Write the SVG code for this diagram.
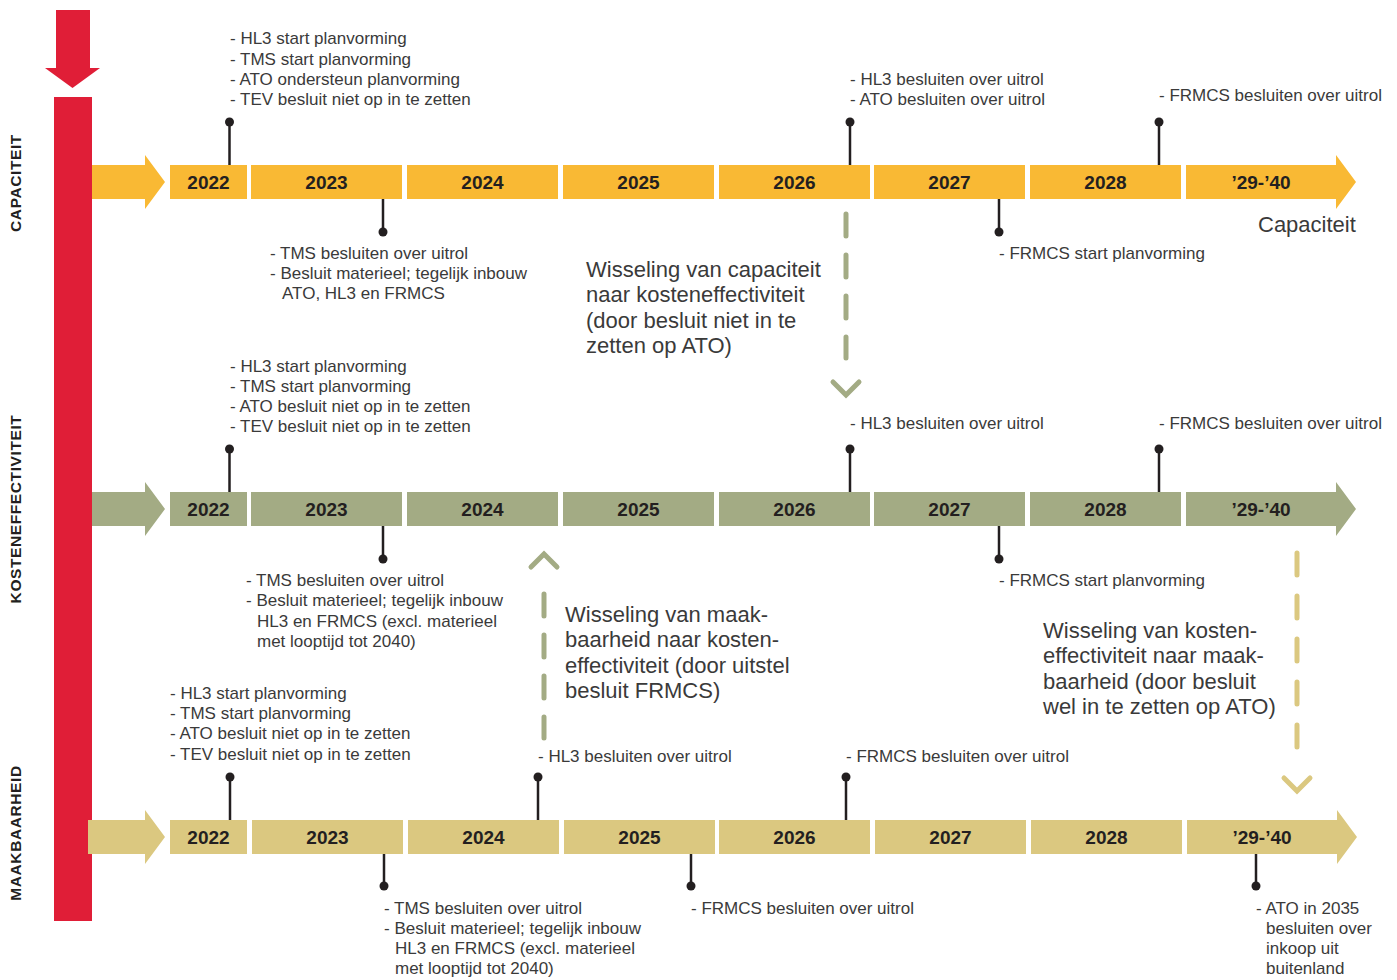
<svg xmlns="http://www.w3.org/2000/svg" width="1397" height="980" viewBox="0 0 1397 980">
<style>
.t{font-family:"Liberation Sans",Arial,sans-serif;font-size:17px;fill:#3a3a3a}
.big{font-family:"Liberation Sans",Arial,sans-serif;font-size:22px;fill:#3a3a3a}
.yr{font-family:"Liberation Sans",Arial,sans-serif;font-size:19px;font-weight:bold;fill:#231f20;text-anchor:middle}
.lab{font-family:"Liberation Sans",Arial,sans-serif;font-size:15.5px;font-weight:bold;fill:#231f20;text-anchor:middle;letter-spacing:0.6px}
.stem{stroke:#231f20;stroke-width:2.5}
.dot{fill:#231f20}
.cap{fill:#F9B934}
.kos{fill:#A3AB84}
.maak{fill:#DBC880}
.dg{stroke:#A3AB84;stroke-width:5;stroke-linecap:round;fill:none}
.dy{stroke:#DBC880;stroke-width:5;stroke-linecap:round;fill:none}
</style>
<rect width="1397" height="980" fill="#ffffff"/>

<g id="red-axis">
<rect x="56" y="10" width="34" height="60" fill="#E01E37"/>
<polygon points="45,68 100,68 72.5,88" fill="#E01E37"/>
<rect x="54" y="97" width="38" height="824" fill="#E01E37"/>
</g>

<g id="row-labels">
<text class="lab" transform="translate(21,183) rotate(-90)">CAPACITEIT</text>
<text class="lab" transform="translate(21,509) rotate(-90)">KOSTENEFFECTIVITEIT</text>
<text class="lab" transform="translate(21,833) rotate(-90)">MAAKBAARHEID</text>
</g>

<g id="timeline-capaciteit">
<polygon class="cap" points="92,165 145,165 145,155 165,182 145,209 145,199 92,199"/>
<rect class="cap" x="170" y="165" width="77" height="34"/>
<rect class="cap" x="251" y="165" width="151" height="34"/>
<rect class="cap" x="407" y="165" width="151" height="34"/>
<rect class="cap" x="563" y="165" width="151" height="34"/>
<rect class="cap" x="719" y="165" width="151" height="34"/>
<rect class="cap" x="874" y="165" width="151" height="34"/>
<rect class="cap" x="1030" y="165" width="151" height="34"/>
<polygon class="cap" points="1186,165 1336,165 1336,155 1356,182 1336,209 1336,199 1186,199"/>
<text class="yr" x="208.5" y="189">2022</text>
<text class="yr" x="326.5" y="189">2023</text>
<text class="yr" x="482.5" y="189">2024</text>
<text class="yr" x="638.5" y="189">2025</text>
<text class="yr" x="794.5" y="189">2026</text>
<text class="yr" x="949.5" y="189">2027</text>
<text class="yr" x="1105.5" y="189">2028</text>
<text class="yr" x="1261" y="189">’29-’40</text>
</g>

<g id="timeline-kosteneffectiviteit">
<polygon class="kos" points="92,492 145,492 145,482 165,509 145,536 145,526 92,526"/>
<rect class="kos" x="170" y="492" width="77" height="34"/>
<rect class="kos" x="251" y="492" width="151" height="34"/>
<rect class="kos" x="407" y="492" width="151" height="34"/>
<rect class="kos" x="563" y="492" width="151" height="34"/>
<rect class="kos" x="719" y="492" width="151" height="34"/>
<rect class="kos" x="874" y="492" width="151" height="34"/>
<rect class="kos" x="1030" y="492" width="151" height="34"/>
<polygon class="kos" points="1186,492 1336,492 1336,482 1356,509 1336,536 1336,526 1186,526"/>
<text class="yr" x="208.5" y="516">2022</text>
<text class="yr" x="326.5" y="516">2023</text>
<text class="yr" x="482.5" y="516">2024</text>
<text class="yr" x="638.5" y="516">2025</text>
<text class="yr" x="794.5" y="516">2026</text>
<text class="yr" x="949.5" y="516">2027</text>
<text class="yr" x="1105.5" y="516">2028</text>
<text class="yr" x="1261" y="516">’29-’40</text>
</g>

<g id="timeline-maakbaarheid">
<polygon class="maak" points="88,820 145,820 145,810 165,837 145,864 145,854 88,854"/>
<rect class="maak" x="170" y="820" width="77" height="34"/>
<rect class="maak" x="252" y="820" width="151" height="34"/>
<rect class="maak" x="408" y="820" width="151" height="34"/>
<rect class="maak" x="564" y="820" width="151" height="34"/>
<rect class="maak" x="719" y="820" width="151" height="34"/>
<rect class="maak" x="875" y="820" width="151" height="34"/>
<rect class="maak" x="1031" y="820" width="151" height="34"/>
<polygon class="maak" points="1187,820 1337,820 1337,810 1357,837 1337,864 1337,854 1187,854"/>
<text class="yr" x="208.5" y="844">2022</text>
<text class="yr" x="327.5" y="844">2023</text>
<text class="yr" x="483.5" y="844">2024</text>
<text class="yr" x="639.5" y="844">2025</text>
<text class="yr" x="794.5" y="844">2026</text>
<text class="yr" x="950.5" y="844">2027</text>
<text class="yr" x="1106.5" y="844">2028</text>
<text class="yr" x="1262" y="844">’29-’40</text>
</g>

<g id="connectors">
<line class="stem" x1="229.5" y1="122" x2="229.5" y2="165"/><circle class="dot" cx="229.5" cy="122" r="4.5"/>
<line class="stem" x1="383" y1="199" x2="383" y2="232"/><circle class="dot" cx="383" cy="232" r="4.5"/>
<line class="stem" x1="850" y1="122" x2="850" y2="165"/><circle class="dot" cx="850" cy="122" r="4.5"/>
<line class="stem" x1="999" y1="199" x2="999" y2="232"/><circle class="dot" cx="999" cy="232" r="4.5"/>
<line class="stem" x1="1159" y1="122" x2="1159" y2="165"/><circle class="dot" cx="1159" cy="122" r="4.5"/>
<line class="stem" x1="229.5" y1="449" x2="229.5" y2="492"/><circle class="dot" cx="229.5" cy="449" r="4.5"/>
<line class="stem" x1="383" y1="526" x2="383" y2="559"/><circle class="dot" cx="383" cy="559" r="4.5"/>
<line class="stem" x1="850" y1="449" x2="850" y2="492"/><circle class="dot" cx="850" cy="449" r="4.5"/>
<line class="stem" x1="999" y1="526" x2="999" y2="559"/><circle class="dot" cx="999" cy="559" r="4.5"/>
<line class="stem" x1="1159" y1="449" x2="1159" y2="492"/><circle class="dot" cx="1159" cy="449" r="4.5"/>
<line class="stem" x1="230" y1="777" x2="230" y2="820"/><circle class="dot" cx="230" cy="777" r="4.5"/>
<line class="stem" x1="538" y1="777" x2="538" y2="820"/><circle class="dot" cx="538" cy="777" r="4.5"/>
<line class="stem" x1="846" y1="777" x2="846" y2="820"/><circle class="dot" cx="846" cy="777" r="4.5"/>
<line class="stem" x1="384" y1="854" x2="384" y2="886"/><circle class="dot" cx="384" cy="886" r="4.5"/>
<line class="stem" x1="691" y1="854" x2="691" y2="886"/><circle class="dot" cx="691" cy="886" r="4.5"/>
<line class="stem" x1="1256" y1="854" x2="1256" y2="886"/><circle class="dot" cx="1256" cy="886" r="4.5"/>
<line class="dg" x1="846" y1="214" x2="846" y2="358" stroke-dasharray="22 19"/>
<polyline class="dg" points="833,382 846,395 859,382"/>
<line class="dg" x1="544" y1="594" x2="544" y2="738" stroke-dasharray="22 19"/>
<polyline class="dg" points="531,567 544,554 557,567"/>
<line class="dy" x1="1297" y1="553" x2="1297" y2="749" stroke-dasharray="22 21"/>
<polyline class="dy" points="1284,778 1297,791 1310,778"/>
</g>

<g id="notes-capaciteit">
<text class="t" x="230" y="44">- HL3 start planvorming</text>
<text class="t" x="230" y="64.5">- TMS start planvorming</text>
<text class="t" x="230" y="85">- ATO ondersteun planvorming</text>
<text class="t" x="230" y="105">- TEV besluit niet op in te zetten</text>
<text class="t" x="850" y="85">- HL3 besluiten over uitrol</text>
<text class="t" x="850" y="105">- ATO besluiten over uitrol</text>
<text class="t" x="1159" y="101">- FRMCS besluiten over uitrol</text>
<text class="t" x="270" y="259">- TMS besluiten over uitrol</text>
<text class="t" x="270" y="279">- Besluit materieel; tegelijk inbouw</text>
<text class="t" x="282" y="299">ATO, HL3 en FRMCS</text>
<text class="t" x="999" y="259">- FRMCS start planvorming</text>
<text class="big" x="1258" y="232">Capaciteit</text>
</g>

<g id="notes-kosteneffectiviteit">
<text class="t" x="230" y="372">- HL3 start planvorming</text>
<text class="t" x="230" y="392">- TMS start planvorming</text>
<text class="t" x="230" y="412">- ATO besluit niet op in te zetten</text>
<text class="t" x="230" y="432">- TEV besluit niet op in te zetten</text>
<text class="t" x="850" y="429">- HL3 besluiten over uitrol</text>
<text class="t" x="1159" y="429">- FRMCS besluiten over uitrol</text>
<text class="t" x="246" y="586">- TMS besluiten over uitrol</text>
<text class="t" x="246" y="606">- Besluit materieel; tegelijk inbouw</text>
<text class="t" x="257" y="627">HL3 en FRMCS (excl. materieel</text>
<text class="t" x="257" y="647">met looptijd tot 2040)</text>
<text class="t" x="999" y="586">- FRMCS start planvorming</text>
</g>

<g id="notes-maakbaarheid">
<text class="t" x="170" y="699">- HL3 start planvorming</text>
<text class="t" x="170" y="719">- TMS start planvorming</text>
<text class="t" x="170" y="739">- ATO besluit niet op in te zetten</text>
<text class="t" x="170" y="760">- TEV besluit niet op in te zetten</text>
<text class="t" x="538" y="762">- HL3 besluiten over uitrol</text>
<text class="t" x="846" y="762">- FRMCS besluiten over uitrol</text>
<text class="t" x="384" y="914">- TMS besluiten over uitrol</text>
<text class="t" x="384" y="934">- Besluit materieel; tegelijk inbouw</text>
<text class="t" x="395" y="954">HL3 en FRMCS (excl. materieel</text>
<text class="t" x="395" y="974">met looptijd tot 2040)</text>
<text class="t" x="691" y="914">- FRMCS besluiten over uitrol</text>
<text class="t" x="1256" y="914">- ATO in 2035</text>
<text class="t" x="1266" y="934">besluiten over</text>
<text class="t" x="1266" y="954">inkoop uit</text>
<text class="t" x="1266" y="974">buitenland</text>
</g>

<g id="transition-texts">
<text class="big" x="586" y="277">Wisseling van capaciteit</text>
<text class="big" x="586" y="302">naar kosteneffectiviteit</text>
<text class="big" x="586" y="328">(door besluit niet in te</text>
<text class="big" x="586" y="353">zetten op ATO)</text>
<text class="big" x="565" y="622">Wisseling van maak-</text>
<text class="big" x="565" y="647">baarheid naar kosten-</text>
<text class="big" x="565" y="673">effectiviteit (door uitstel</text>
<text class="big" x="565" y="698">besluit FRMCS)</text>
<text class="big" x="1043" y="638">Wisseling van kosten-</text>
<text class="big" x="1043" y="663">effectiviteit naar maak-</text>
<text class="big" x="1043" y="689">baarheid (door besluit</text>
<text class="big" x="1043" y="714">wel in te zetten op ATO)</text>
</g>
</svg>
